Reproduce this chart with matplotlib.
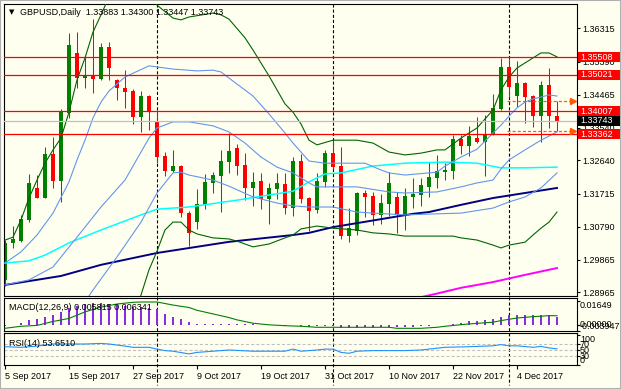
import matplotlib
matplotlib.use('Agg')
import matplotlib.pyplot as plt
from matplotlib.transforms import blended_transform_factory
from matplotlib.patches import Rectangle
from matplotlib.lines import Line2D

plt.rcParams['font.family'] = ['Liberation Sans', 'DejaVu Sans']
plt.rcParams['lines.scale_dashes'] = False

# ---------------- data ----------------
symbol = 'GBPUSD'
timeframe = 'Daily'

opens = [1.2931, 1.3033, 1.3040, 1.3098, 1.3186, 1.3160, 1.3282, 1.3207, 1.3397, 1.3564,
         1.3494, 1.3502, 1.3490, 1.3580, 1.3488, 1.3466, 1.3458, 1.3384, 1.3443, 1.3373,
         1.3276, 1.3235, 1.3249, 1.3116, 1.3093, 1.3140, 1.3202, 1.3220, 1.3260, 1.3297,
         1.3251, 1.3188, 1.3206, 1.3156, 1.3183, 1.3198, 1.3130, 1.3262, 1.3158, 1.3126,
         1.3204, 1.3285, 1.3249, 1.3053, 1.3068, 1.3172, 1.3165, 1.3112, 1.3142, 1.3163,
         1.3112, 1.3163, 1.3167, 1.3191, 1.3216, 1.3232, 1.3235, 1.3323, 1.3305, 1.3327,
         1.3316, 1.3336, 1.3406, 1.3525, 1.3443, 1.3480, 1.3443, 1.3388, 1.3474, 1.33883]
highs = [1.3042, 1.3081, 1.3112, 1.3226, 1.3223, 1.3302, 1.3330, 1.3406, 1.3618, 1.3622,
         1.3551, 1.3657, 1.3591, 1.3594, 1.3490, 1.3515, 1.3462, 1.3458, 1.3445, 1.3404,
         1.3288, 1.3293, 1.3251, 1.3124, 1.3183, 1.3226, 1.3232, 1.3293, 1.3339, 1.3309,
         1.3284, 1.3232, 1.3230, 1.3202, 1.3230, 1.3228, 1.3274, 1.3281, 1.3163, 1.3228,
         1.3293, 1.3321, 1.3302, 1.3132, 1.3177, 1.3181, 1.3177, 1.3170, 1.3232, 1.3177,
         1.3186, 1.3214, 1.3214, 1.3260, 1.3279, 1.3257, 1.3334, 1.3334, 1.3360, 1.3385,
         1.3390, 1.3448, 1.3550, 1.3550, 1.3540, 1.3483, 1.3446, 1.3485, 1.3520, 1.34300]
lows = [1.2915, 1.3020, 1.3037, 1.3093, 1.3158, 1.3158, 1.3186, 1.3149, 1.3381, 1.3464,
        1.3464, 1.3451, 1.3488, 1.3488, 1.3432, 1.3409, 1.3364, 1.3342, 1.3348, 1.3256,
        1.3220, 1.3231, 1.3107, 1.3025, 1.3072, 1.3128, 1.3174, 1.3121, 1.3228, 1.3223,
        1.3154, 1.3137, 1.3128, 1.3087, 1.3155, 1.3114, 1.3109, 1.3146, 1.3068, 1.3116,
        1.3191, 1.3239, 1.3044, 1.3037, 1.3056, 1.3107, 1.3084, 1.3087, 1.3109, 1.3061,
        1.3070, 1.3130, 1.3137, 1.3163, 1.3186, 1.3209, 1.3212, 1.3282, 1.3276, 1.3311,
        1.3221, 1.3334, 1.3404, 1.3441, 1.3413, 1.3369, 1.3358, 1.3316, 1.3355, 1.33447]
closes = [1.3034, 1.3044, 1.3101, 1.3202, 1.3160, 1.3282, 1.3207, 1.3399, 1.3585, 1.3494,
          1.3502, 1.3490, 1.3580, 1.3522, 1.3464, 1.3455, 1.3384, 1.3443, 1.3401, 1.3274,
          1.3235, 1.3249, 1.3116, 1.3062, 1.3142, 1.3204, 1.3223, 1.3262, 1.3290, 1.3249,
          1.3188, 1.3204, 1.3155, 1.3186, 1.3200, 1.3130, 1.3262, 1.3156, 1.3124, 1.3206,
          1.3285, 1.3246, 1.3053, 1.3076, 1.3172, 1.3163, 1.3112, 1.3146, 1.3200, 1.3112,
          1.3165, 1.3170, 1.3195, 1.3218, 1.3234, 1.3237, 1.3323, 1.3305, 1.3332, 1.3316,
          1.3336, 1.3410, 1.3525, 1.3469, 1.3480, 1.3441, 1.3388, 1.3474, 1.3388, 1.33743]

date_labels = ['5 Sep 2017', '15 Sep 2017', '27 Sep 2017', '9 Oct 2017', '19 Oct 2017',
               '31 Oct 2017', '10 Nov 2017', '22 Nov 2017', '4 Dec 2017']
date_label_bars = [0, 8, 16, 24, 32, 40, 48, 56, 64]
month_start_bars = [19, 41, 63]

price_ticks = [1.36315, 1.35390, 1.34465, 1.33540, 1.32640, 1.31715, 1.30790, 1.29865, 1.28965]
levels = [1.35508, 1.35021, 1.34007, 1.33362]

# Bollinger bands (20): +-2 sigma (dark green), +-1 sigma and middle (blue)
bb_up2_x = [0, 1, 2, 3, 4, 5, 6, 7, 8, 9, 10, 11, 12, 13, 15, 17, 18, 19, 21, 22, 23, 26, 27, 28,
            30, 31, 33, 35, 36, 37, 38, 39, 41, 44, 46, 48, 50, 52, 54, 55, 57, 59, 61, 62, 63,
            64, 65, 67, 68, 69]
bb_up2_y = [1.3042, 1.3050, 1.3098, 1.3159, 1.3209, 1.3256, 1.3293, 1.3326, 1.3398, 1.3488,
            1.3549, 1.3621, 1.3669, 1.3719, 1.3766, 1.3752, 1.3724, 1.3696, 1.3660, 1.3655,
            1.3663, 1.3674, 1.3669, 1.3657, 1.3605, 1.3571, 1.3499, 1.3421, 1.3398, 1.3365,
            1.3320, 1.3307, 1.3320, 1.3320, 1.3312, 1.3287, 1.3279, 1.3284, 1.3293, 1.3293,
            1.3326, 1.3354, 1.3404, 1.3460, 1.3496, 1.3521, 1.3535, 1.3563, 1.3563, 1.3552]
bb_lo2_x = [0, 4, 8, 11, 14, 16, 17, 18, 19, 20, 21, 22, 23, 24, 26, 28, 29, 31, 33, 35, 36,
            37, 39, 41, 44, 46, 48, 50, 54, 56, 57, 59, 61, 62, 63, 65, 66, 67, 68, 69]
bb_lo2_y = [1.2792, 1.2750, 1.2652, 1.2597, 1.2708, 1.2819, 1.2889, 1.2959, 1.3011, 1.3070,
            1.3092, 1.3092, 1.3070, 1.3059, 1.3048, 1.3045, 1.3039, 1.3023, 1.3031, 1.3048,
            1.3056, 1.3073, 1.3081, 1.3075, 1.3070, 1.3062, 1.3059, 1.3053, 1.3053, 1.3053,
            1.3048, 1.3042, 1.3028, 1.3020, 1.3028, 1.3036, 1.3056, 1.3075, 1.3092, 1.3120]
bb_up1_x = [0, 2, 4, 6, 8, 9, 10, 11, 12, 13, 15, 18, 21, 24, 26, 27, 28, 31, 33, 35, 36, 38,
            40, 45, 47, 48, 50, 54, 55, 57, 59, 61, 62, 63, 64, 65, 66, 67, 68, 69]
bb_up1_y = [1.2978, 1.3009, 1.3056, 1.3117, 1.3204, 1.3265, 1.3320, 1.3382, 1.3426, 1.3457,
            1.3496, 1.3527, 1.3518, 1.3513, 1.3515, 1.3510, 1.3493, 1.3443, 1.3393, 1.3340,
            1.3312, 1.3262, 1.3256, 1.3256, 1.3237, 1.3229, 1.3223, 1.3231, 1.3248, 1.3273,
            1.3295, 1.3340, 1.3362, 1.3387, 1.3410, 1.3426, 1.3435, 1.3440, 1.3446, 1.3443]
bb_mid_x = [0, 3, 6, 9, 12, 15, 18, 19, 21, 23, 26, 28, 30, 32, 34, 36, 38, 39, 44, 48, 50,
            54, 57, 59, 61, 62, 63, 65, 67, 69]
bb_mid_y = [1.2917, 1.2931, 1.2967, 1.3050, 1.3134, 1.3209, 1.3326, 1.3354, 1.3371, 1.3371,
            1.3360, 1.3343, 1.3312, 1.3273, 1.3245, 1.3229, 1.3201, 1.3190, 1.3190, 1.3176,
            1.3173, 1.3176, 1.3190, 1.3201, 1.3209, 1.3240, 1.3265, 1.3293, 1.3320, 1.3343]
bb_lo1_x = [0, 4, 8, 10, 11, 14, 17, 19, 21, 22, 23, 26, 28, 31, 34, 36, 38, 41, 44, 46, 50,
            54, 57, 61, 63, 65, 67, 69]
bb_lo1_y = [1.2856, 1.2825, 1.2819, 1.2870, 1.2903, 1.2995, 1.3092, 1.3173, 1.3229, 1.3231,
            1.3223, 1.3209, 1.3192, 1.3162, 1.3145, 1.3137, 1.3134, 1.3134, 1.3120, 1.3117,
            1.3112, 1.3115, 1.3117, 1.3131, 1.3148, 1.3162, 1.3187, 1.3229]
# moving averages
ma_cyan_x = [0, 3, 5, 8, 12, 17, 19, 23, 29, 36, 38, 40, 42, 46, 50, 55, 59, 62, 65, 69]
ma_cyan_y = [1.2978, 1.2984, 1.3000, 1.3034, 1.3070, 1.3112, 1.3128, 1.3134, 1.3153, 1.3178,
             1.3204, 1.3226, 1.3229, 1.3248, 1.3256, 1.3259, 1.3256, 1.3243, 1.3243, 1.3245]
ma_navy_x = [0, 7, 12, 19, 28, 36, 38, 41, 51, 53, 57, 61, 65, 69]
ma_navy_y = [1.2917, 1.2942, 1.2973, 1.3006, 1.3037, 1.3056, 1.3062, 1.3078, 1.3115, 1.3120,
             1.3140, 1.3159, 1.3173, 1.3187]
ma_magenta_x = [52, 54, 57, 61, 65, 69]
ma_magenta_y = [1.2883, 1.2893, 1.2909, 1.2925, 1.2945, 1.2964]

# MACD(12,26,9)
macd_hist = [-0.0004, 0.0002, 0.0012, 0.0034, 0.0041, 0.0057, 0.0071, 0.0087, 0.0117, 0.0133,
             0.0144, 0.0149, 0.0150, 0.0146, 0.0140, 0.0133, 0.0126, 0.0121, 0.0117, 0.0110,
             0.0076, 0.0057, 0.0041, 0.0018, 0.0010, 0.0008, 0.0009, 0.0007, 0.0008, 0.0006,
             0.0007, 0.0004, 0.0001, -0.0003, -0.0002, -0.0006, -0.0002, -0.0006, -0.0012, -0.0010,
             -0.0006, -0.0008, -0.0018, -0.0022, -0.0018, -0.0017, -0.0018, -0.0017, -0.0014, -0.0015,
             -0.0012, -0.0011, -0.0009, -0.0005, -0.0002, 0.0001, 0.0008, 0.0014, 0.0025, 0.0030,
             0.0034, 0.0041, 0.0057, 0.0067, 0.0071, 0.0071, 0.0070, 0.0071, 0.0071, 0.005815]
macd_sig_x = [0, 2, 4, 6, 8, 10, 12, 14, 16, 17, 19, 21, 23, 24, 26, 28, 29, 31, 33, 35, 37,
              39, 42, 48, 49, 52, 54, 55, 58, 61, 62, 64, 66, 68, 69]
macd_sig_y = [-0.0023, -0.0009, -0.0003, 0.0024, 0.0045, 0.0090, 0.0123, 0.0144, 0.0156, 0.0158,
              0.0158, 0.0137, 0.0120, 0.0101, 0.0076, 0.0051, 0.0035, 0.0012, 0.0001, -0.0005,
              -0.0009, -0.0016, -0.0016, -0.0016, -0.0023, -0.0023, -0.0016, -0.0009, 0.0007, 0.0019,
              0.0030, 0.0048, 0.0057, 0.0064, 0.006341]
macd_scale_labels = ['0.01649', '0.00000', '-0.003947']
macd_scale_values = [0.01649, 0.0, -0.003947]

# RSI(14)
rsi_x = [0, 2, 4, 6, 8, 10, 12, 13, 15, 16, 18, 19, 20, 21, 23, 24, 26, 28, 31, 33, 35, 36,
         37, 39, 40, 41, 42, 43, 44, 46, 50, 52, 55, 58, 61, 62, 63, 64, 66, 67, 68, 69]
rsi_y = [61, 59, 63, 70, 70, 70, 72, 70, 63, 59, 59, 53, 48, 46, 37, 42, 46, 50, 46, 46, 46, 53,
         46, 50, 53, 53, 42, 39, 46, 48, 48, 50, 59, 61, 64, 68, 64, 64, 59, 62, 57, 53.651]
rsi_levels = [30, 50, 70]
rsi_scale_values = [100, 70, 50, 30, 0]

# ---------------- layout ----------------
W, H = 621, 389
BG = '#FFFFF0'
fig = plt.figure(figsize=(W / 100, H / 100), dpi=100)
fig.patch.set_facecolor(BG)


def rect(l, t, r, b):
    return [l / W, 1 - b / H, (r - l) / W, (b - t) / H]


ax = fig.add_axes(rect(4, 4, 577, 295.5))
axm = fig.add_axes(rect(4, 298, 577, 330.7))
axr = fig.add_axes(rect(4, 333, 577, 365))
for a in (ax, axm, axr):
    a.set_facecolor('none')
    a.set_xlim(-0.125, 71.5)
    for s in a.spines.values():
        s.set_color('black')
        s.set_linewidth(0.8)
    a.tick_params(axis='x', bottom=False, labelbottom=False)
    a.tick_params(axis='y', left=False, labelleft=False)

FS = 6.5
TXT = '#000000'

# ---- main price panel ----
ax.set_ylim(1.28876, 1.36992)
pp = (1.36992 - 1.28876) / 291.5  # price per pixel
ax.yaxis.tick_right()
ax.set_yticks(price_ticks)
ax.set_yticklabels([f'{v:.5f}' for v in price_ticks])
ax.tick_params(axis='y', right=True, labelright=True, left=False, labelleft=False,
               length=2.5, width=0.8, pad=1.0, labelsize=FS, colors=TXT)

idx = list(range(len(opens)))
cols = ['#008000' if c >= o else '#FF0000' for o, c in zip(opens, closes)]
ax.vlines(idx, lows, highs, colors=cols, lw=0.75, zorder=2)
bottoms = [min(o, c) for o, c in zip(opens, closes)]
heights = [max(abs(c - o), 0.00030) for o, c in zip(opens, closes)]
ax.bar(idx, heights, bottom=bottoms, width=0.62, color=cols, linewidth=0, zorder=2.1)

lw1 = 0.8
ax.plot(ma_magenta_x, ma_magenta_y, color='#FF00FF', lw=1.4, zorder=3)
ax.plot(ma_navy_x, ma_navy_y, color='#000080', lw=1.4, zorder=3)
ax.plot(ma_cyan_x, ma_cyan_y, color='#00FFFF', lw=1.1, zorder=3)
ax.plot(bb_up1_x, bb_up1_y, color='#6495ED', lw=lw1, zorder=3)
ax.plot(bb_mid_x, bb_mid_y, color='#6495ED', lw=lw1, zorder=3)
ax.plot(bb_lo1_x, bb_lo1_y, color='#6495ED', lw=lw1, zorder=3)
ax.plot(bb_up2_x, bb_up2_y, color='#006400', lw=lw1, zorder=3)
ax.plot(bb_lo2_x, bb_lo2_y, color='#006400', lw=lw1, zorder=3)

# bid line and horizontal levels
ax.axhline(closes[-1], color='#C0C0C0', lw=0.9, zorder=3.5)
for lv in levels:
    ax.axhline(lv, color='#FF0000', lw=0.9, zorder=4)

# last bar high / low lines with arrows
hl_color = '#FF5A00'
for v in (highs[-1], lows[-1]):
    ax.plot([62.75, 70.7], [v, v], color=hl_color, lw=0.9, ls=(0, (2.2, 1.5)), zorder=4)
    ax.plot([71.0], [v], marker='>', ms=4.2, color=hl_color, mec=hl_color, zorder=4)

trans_p = blended_transform_factory(fig.transFigure, ax.transData)
for lv, fc in [(l, '#FF0000') for l in levels] + [(closes[-1], '#000000')]:
    fig.add_artist(Rectangle((578 / W, lv - 5 * pp), 42 / W, 10 * pp, transform=trans_p,
                             facecolor=fc, edgecolor='none', zorder=5))
    fig.text(580 / W, lv, f'{lv:.5f}', transform=trans_p, color='white', fontsize=FS,
             va='center', ha='left', zorder=6)

# title
fig.text(9 / W, 1 - 12.5 / H, '\u25bc', fontsize=5, va='center', ha='left', color=TXT,
         family=['DejaVu Sans'])
fig.text(20.5 / W, 1 - 12.5 / H,
         f'{symbol},{timeframe}  {opens[-1]:.5f} {highs[-1]:.5f} {lows[-1]:.5f} {closes[-1]:.5f}',
         fontsize=FS, va='center', ha='left', color=TXT)

# ---- MACD panel ----
axm.set_ylim(-0.003947, 0.01855)
axm.bar(idx, macd_hist, width=0.27, color='#8A2BE2', linewidth=0, zorder=2)
axm.plot(macd_sig_x, macd_sig_y, color='#008000', lw=lw1, zorder=3)
fig.text(9 / W, 1 - 307.5 / H, f'MACD(12,26,9) {macd_hist[-1]:.6f} {macd_sig_y[-1]:.6f}',
         fontsize=FS, va='center', ha='left', color=TXT)
trans_m = blended_transform_factory(fig.transFigure, axm.transData)
for v, lab in zip(macd_scale_values, macd_scale_labels):
    va = 'top' if v == max(macd_scale_values) else ('bottom' if v == min(macd_scale_values) else 'center')
    fig.text(580 / W, v, lab, transform=trans_m, fontsize=FS, va=va, ha='left', color=TXT)
axm.yaxis.tick_right()
axm.set_yticks(macd_scale_values)
axm.tick_params(axis='y', right=True, labelright=False, left=False, length=2.5, width=0.8)

# ---- RSI panel ----
axr.set_ylim(0, 106.7)
for lv in rsi_levels:
    axr.axhline(lv, color='#C0C0C0', lw=0.8, ls=(0, (2.2, 1.5)), zorder=1)
axr.plot(rsi_x, rsi_y, color='#1E90FF', lw=lw1, zorder=3)
fig.text(9 / W, 1 - 343 / H, f'RSI(14) {rsi_y[-1]:.4f}', fontsize=FS, va='center', ha='left',
         color=TXT)
trans_r = blended_transform_factory(fig.transFigure, axr.transData)
for v in rsi_scale_values:
    va = 'top' if v == 100 else ('bottom' if v == 0 else 'center')
    fig.text(580 / W, v, f'{v}', transform=trans_r, fontsize=FS, va=va, ha='left', color=TXT)
axr.yaxis.tick_right()
axr.set_yticks(rsi_scale_values)
axr.tick_params(axis='y', right=True, labelright=False, left=False, length=2.5, width=0.8)

axr.set_xticks(date_label_bars)
axr.set_xticklabels(date_labels, ha='left')
axr.tick_params(axis='x', bottom=True, labelbottom=True, length=3, width=0.8, pad=2.2,
                labelsize=FS, colors=TXT, direction='out')

# ---- period separators (behind everything, through all panels) ----
trans_s = blended_transform_factory(ax.transData, fig.transFigure)
for b in month_start_bars:
    fig.add_artist(Line2D([b, b], [1 - 4 / H, 1 - 385 / H], transform=trans_s, color='black',
                          lw=0.8, ls=(0, (2.2, 1.5)), zorder=-1))

# outer window frame
fig.add_artist(Rectangle((0, 0), 1, 1, transform=fig.transFigure, fill=False,
                         edgecolor='#B0B0B0', lw=1.5, zorder=10))

fig.savefig('out.png', dpi=100, facecolor=fig.get_facecolor())
